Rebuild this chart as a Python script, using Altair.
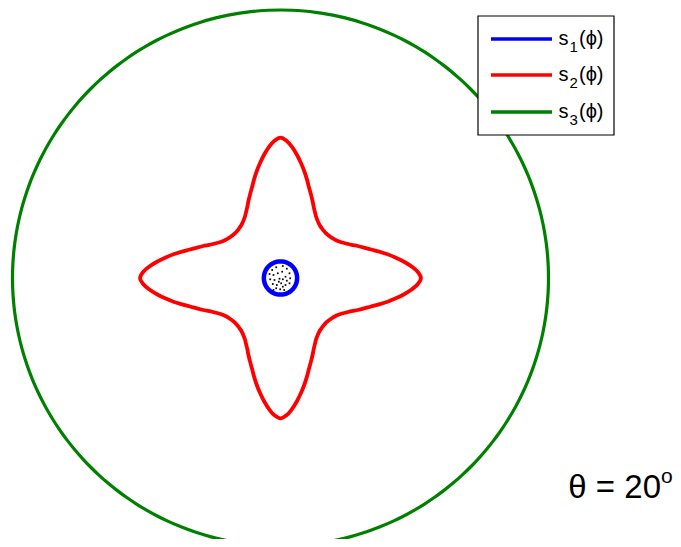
import altair as alt
import numpy as np
import pandas as pd

# ---- data (units: s3 radius = 1) ----
angles_deg = [0, 2.5, 5, 7.5, 10, 12.5, 15, 17.5, 20, 22.5, 25, 27.5, 30, 32.5, 35, 37.5, 40, 42.5, 45]  # angle from nearest axis
s2_vals = [0.524, 0.513, 0.491, 0.465, 0.437, 0.409, 0.381, 0.354, 0.332, 0.312,
           0.293, 0.278, 0.265, 0.256, 0.249, 0.244, 0.241, 0.239, 0.238]
s1_val = 0.062
s3_val = 1.0
series_names = ["s\u2081(\u03d5)", "s\u2082(\u03d5)", "s\u2083(\u03d5)"]
series_colors = ["#0000ff", "#ff0000", "#008000"]
# stipple dots inside s1 (offsets, px at this scale)
dot_dx = [-8.3, -4.3, 2.3, 6.3, 9.0, -11.0, -7.0, -2.7, 1.7, 5.0, 9.7, -10.3, -6.0, -1.0, 2.3, 6.3, 9.0, -7.7, -3.7, 0.7, 5.0, -4.3, -0.3, 3.7, -7.0, -1.7, 2.3]
dot_dy = [8.0, 10.7, 12.0, 9.3, 4.7, 4.0, 3.0, 4.7, 6.3, 1.3, -0.3, -1.3, -2.0, -0.7, -1.3, -2.7, -5.3, -6.0, -7.0, -5.3, -7.0, -10.3, -11.3, -12.0, -12.0, -3.7, -8.7]
theta_label = "\u03b8 = 20"
theta_sup = "o"

UNIT = 268.0  # px per unit

# ---- build curves ----
def full_curve(rq):
    # rq: radius at angles_deg (0..45) -> full 360 via the 4-fold mirror symmetry
    ang, rad = [], []
    for k in range(8):
        base = 45 * k
        seq = list(zip(angles_deg, rq))
        if k % 2 == 1:
            seq = [(45 - a, r) for a, r in reversed(seq)]
        for a, r in seq:
            if ang and abs(base + a - ang[-1]) < 1e-9:
                continue
            ang.append(base + a)
            rad.append(r)
    # overlap a little at both ends so the closed curve joins smoothly
    ang = [ang[-3] - 360, ang[-2] - 360] + ang + [ang[1] + 360, ang[2] + 360]
    rad = [rad[-3], rad[-2]] + rad + [rad[1], rad[2]]
    return ang, rad

rows = []
for name, rq in [(series_names[0], [s1_val] * len(angles_deg)),
                 (series_names[1], s2_vals),
                 (series_names[2], [s3_val] * len(angles_deg))]:
    ang, rad = full_curve(rq)
    for i, (a, r) in enumerate(zip(ang, rad)):
        t = np.deg2rad(a)
        rows.append({"series": name, "i": i, "x": r * np.cos(t), "y": r * np.sin(t)})
curves = pd.DataFrame(rows)

dots = pd.DataFrame({"x": np.array(dot_dx) / UNIT, "y": np.array(dot_dy) / UNIT})

W, H = 665, 531
cx, cy = 272.5, 270.0
xdom = [-cx / UNIT, (W - cx) / UNIT]
ydom = [-(H - cy) / UNIT, cy / UNIT]
xs = alt.Scale(domain=xdom, nice=False, zero=False)
ys = alt.Scale(domain=ydom, nice=False, zero=False)

base = alt.Chart(curves)

def curve(name, color, width):
    return base.transform_filter(alt.datum.series == name).mark_line(
        interpolate="catmull-rom", strokeWidth=width, color=color, clip=False
    ).encode(
        x=alt.X("x:Q", scale=xs, axis=None),
        y=alt.Y("y:Q", scale=ys, axis=None),
        order="i:Q",
    )

green = curve(series_names[2], series_colors[2], 3.2)
red = curve(series_names[1], series_colors[1], 3.8)
blue = curve(series_names[0], series_colors[0], 4.5)

dot_layer = alt.Chart(dots).mark_square(size=3, color="black", opacity=1).encode(
    x=alt.X("x:Q", scale=xs, axis=None), y=alt.Y("y:Q", scale=ys, axis=None)
)

# ---- legend (drawn manually for the subscripts) ----
box = alt.Chart(pd.DataFrame({"a": [0]})).mark_rect(
    fill="white", stroke="black", strokeWidth=1.2
).encode(x=alt.value(470), x2=alt.value(606), y=alt.value(8), y2=alt.value(127))

leg_y = [31, 67, 104]
leg = pd.DataFrame({
    "y": leg_y,
    "color": series_colors,
    "sub": ["1", "2", "3"],
})
leg_lines = alt.Chart(leg).mark_rule(strokeWidth=3.5).encode(
    x=alt.value(483), x2=alt.value(544),
    y=alt.Y("y:Q", scale=None),
    color=alt.Color("color:N", scale=None),
)
leg_s = alt.Chart(leg).transform_calculate(yb="datum.y + 6").mark_text(
    text="s", fontSize=20, align="left", baseline="alphabetic", color="black"
).encode(x=alt.value(550.5), y=alt.Y("yb:Q", scale=None))
leg_sub = alt.Chart(leg).transform_calculate(yb="datum.y + 12.5").mark_text(
    fontSize=15, align="left", baseline="alphabetic", color="black"
).encode(x=alt.value(561.5), y=alt.Y("yb:Q", scale=None), text="sub:N")
leg_phi = alt.Chart(leg).transform_calculate(yb="datum.y + 6").mark_text(
    text="(\u03d5)", fontSize=20, align="left", baseline="alphabetic", color="black"
).encode(x=alt.value(571), y=alt.Y("yb:Q", scale=None))

theta_txt = alt.Chart(pd.DataFrame({"t": [theta_label]})).mark_text(
    fontSize=33, align="right", baseline="alphabetic", color="black"
).encode(x=alt.value(653), y=alt.value(490), text="t:N")
theta_o = alt.Chart(pd.DataFrame({"t": [theta_sup]})).mark_text(
    fontSize=21, align="left", baseline="alphabetic", color="black"
).encode(x=alt.value(653), y=alt.value(475), text="t:N")

chart = alt.layer(
    green, red, blue, dot_layer, box, leg_lines, leg_s, leg_sub, leg_phi, theta_txt, theta_o
).properties(
    width=W, height=H, padding=0, autosize=alt.AutoSizeParams(type="none")
).configure(
    font="Liberation Sans", view=alt.ViewConfig(stroke=None)
)

chart.save("out.html", embed_options={"renderer": "svg", "actions": False})
